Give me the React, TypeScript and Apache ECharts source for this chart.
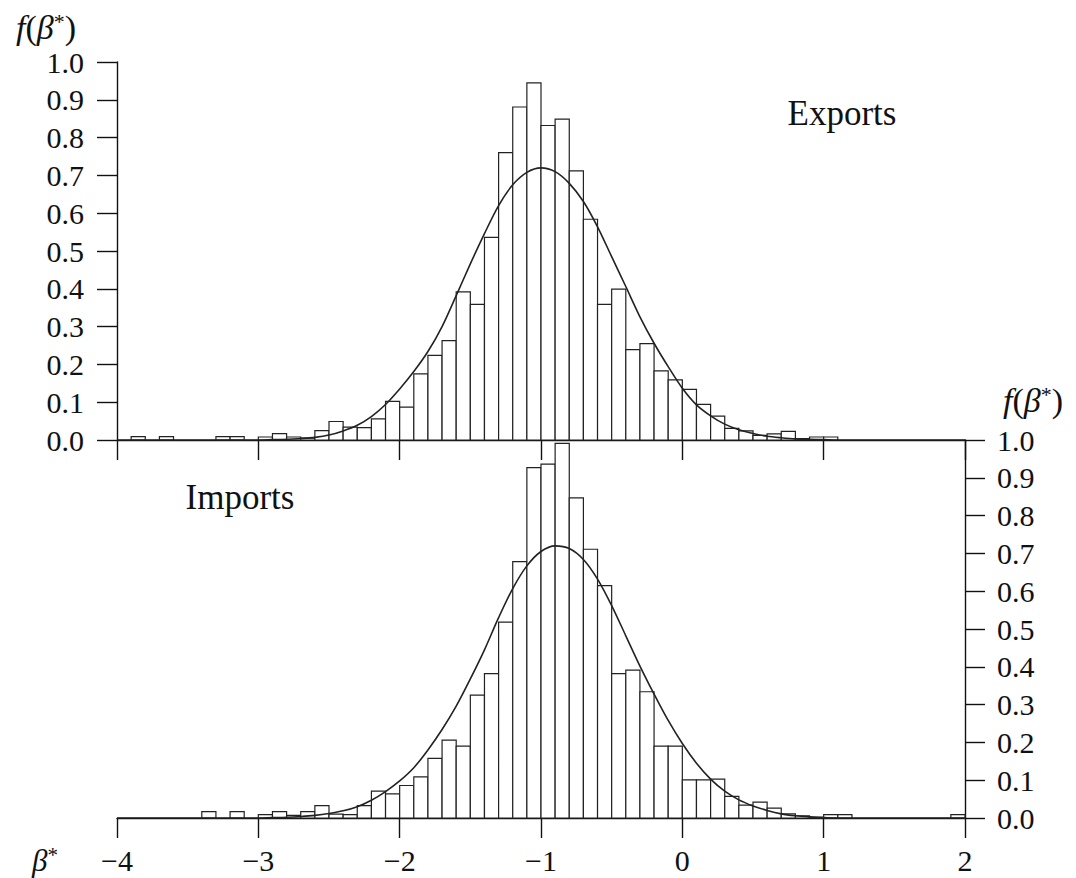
import React, { useEffect, useRef } from "react";
import * as echarts from "echarts";

// Histogram bins: width 0.1, first bin starts at -4.0 (60 bins up to 2.0)
const BIN_START = -4;
const BIN_WIDTH = 0.1;

const exportHeights = [
  0, 0.009, 0, 0.009, 0, 0, 0, 0.009, 0.009, 0,
  0.008, 0.017, 0.008, 0.005, 0.025, 0.049, 0.034, 0.033, 0.056, 0.102,
  0.087, 0.175, 0.224, 0.263, 0.392, 0.359, 0.536, 0.760, 0.881, 0.945,
  0.832, 0.849, 0.712, 0.584, 0.359, 0.399, 0.239, 0.255, 0.183, 0.159,
  0.134, 0.094, 0.063, 0.031, 0.024, 0.012, 0.016, 0.023, 0.004, 0.008,
  0.008, 0, 0, 0, 0, 0, 0, 0, 0, 0,
];

const importHeights = [
  0, 0, 0, 0, 0, 0, 0.017, 0, 0.017, 0,
  0.009, 0.017, 0.007, 0.017, 0.033, 0.010, 0.009, 0.033, 0.071, 0.064,
  0.086, 0.109, 0.158, 0.206, 0.190, 0.325, 0.382, 0.518, 0.678, 0.927,
  0.936, 0.991, 0.847, 0.711, 0.615, 0.382, 0.391, 0.334, 0.190, 0.190,
  0.101, 0.101, 0.103, 0.057, 0.034, 0.042, 0.026, 0.011, 0.006, 0.002,
  0.009, 0.009, 0, 0, 0, 0, 0, 0, 0, 0.009,
];

const curveX = [
  -4.0, -3.0, -2.9, -2.8, -2.7, -2.6, -2.5, -2.4, -2.3, -2.2, -2.1, -2.0,
  -1.9, -1.8, -1.7, -1.6, -1.5, -1.4, -1.3, -1.2, -1.1, -1.0, -0.9, -0.8,
  -0.7, -0.6, -0.5, -0.4, -0.3, -0.2, -0.1, 0.0, 0.1, 0.2, 0.3, 0.4, 0.5,
  0.6, 0.7, 0.8, 0.9, 1.0, 1.1, 1.2, 2.0,
];

const exportCurveY = [
  0, 0, 0.001, 0.002, 0.004, 0.007, 0.013, 0.024, 0.039, 0.062, 0.094, 0.135,
  0.181, 0.234, 0.300, 0.382, 0.466, 0.546, 0.620, 0.675, 0.708, 0.720, 0.710, 0.679,
  0.631, 0.564, 0.485, 0.406, 0.326, 0.256, 0.194, 0.137, 0.093, 0.064, 0.042, 0.027, 0.017,
  0.010, 0.006, 0.003, 0.002, 0.001, 0, 0, 0,
];

const importCurveY = [
  0, 0, 0.001, 0.002, 0.004, 0.007, 0.012, 0.019, 0.030, 0.047, 0.070, 0.098,
  0.133, 0.180, 0.234, 0.296, 0.368, 0.445, 0.530, 0.607, 0.667, 0.705, 0.720, 0.713,
  0.684, 0.632, 0.562, 0.482, 0.402, 0.328, 0.258, 0.197, 0.145, 0.103, 0.071, 0.048, 0.032,
  0.020, 0.011, 0.006, 0.003, 0.001, 0, 0, 0,
];

const FONT = "Liberation Serif";
const INK = "#111";

function binData(heights: number[]) {
  const out: number[][] = [];
  heights.forEach((h, i) => {
    if (h > 0) {
      const x0 = +(BIN_START + i * BIN_WIDTH).toFixed(2);
      const x1 = +(BIN_START + (i + 1) * BIN_WIDTH).toFixed(2);
      out.push([x0, x1, h]);
    }
  });
  return out;
}

function curveData(ys: number[]) {
  return curveX.map((x, i) => [x, ys[i]]);
}

const renderBin = (params: any, api: any) => {
  const x0 = api.value(0);
  const x1 = api.value(1);
  const h = api.value(2);
  const p0 = api.coord([x0, h]);
  const p1 = api.coord([x1, 0]);
  return {
    type: "rect",
    shape: { x: p0[0], y: p0[1], width: p1[0] - p0[0], height: p1[1] - p0[1] },
    style: { fill: "#fff", stroke: "#222", lineWidth: 1.2 },
  };
};

const fmtX = (v: number) => (v < 0 ? "\u2212" + Math.abs(v) : String(v));

const richLabel = {
  i: { fontFamily: FONT, fontSize: 34, fontStyle: "italic", fill: INK },
  n: { fontFamily: FONT, fontSize: 34, fill: INK },
  s: { fontFamily: FONT, fontSize: 22, fill: INK, verticalAlign: "top" },
};

const richSmall = {
  i: { fontFamily: FONT, fontSize: 31, fontStyle: "italic", fill: INK },
  s: { fontFamily: FONT, fontSize: 21, fill: INK, verticalAlign: "top" },
};

export default function App() {
  const ref = useRef<HTMLDivElement>(null);
  useEffect(() => {
    if (!ref.current) return;
    const chart = echarts.init(ref.current, null, { renderer: "svg" });
    const axisLine = { show: true, onZero: false, lineStyle: { color: INK, width: 1.4 } };
    const axisTick = { show: true, length: 20, inside: false, lineStyle: { color: INK, width: 1.4 } };
    const labelStyle = { fontFamily: FONT, fontSize: 30, color: INK };
    chart.setOption({
      animation: false,
      backgroundColor: "#fff",
      grid: [
        { left: 117, top: 62, width: 848, height: 378 },
        { left: 117, top: 440, width: 848, height: 378 },
      ],
      xAxis: [
        {
          type: "value", gridIndex: 0, min: -4, max: 2, interval: 1, position: "bottom",
          axisLine, axisTick, axisLabel: { show: false }, splitLine: { show: false },
        },
        {
          type: "value", gridIndex: 1, min: -4, max: 2, interval: 1, position: "bottom",
          axisLine, axisTick,
          axisLabel: { ...labelStyle, margin: 27, formatter: fmtX, showMinLabel: true, showMaxLabel: true },
          splitLine: { show: false },
        },
      ],
      yAxis: [
        {
          type: "value", gridIndex: 0, min: 0, max: 1, interval: 0.1, position: "left",
          axisLine, axisTick,
          axisLabel: { ...labelStyle, margin: 33, formatter: (v: number) => v.toFixed(1) },
          splitLine: { show: false },
        },
        {
          type: "value", gridIndex: 1, min: 0, max: 1, interval: 0.1, position: "right",
          axisLine, axisTick,
          axisLabel: { ...labelStyle, margin: 32, formatter: (v: number) => v.toFixed(1) },
          splitLine: { show: false },
        },
      ],
      series: [
        {
          type: "custom", name: "Exports histogram", xAxisIndex: 0, yAxisIndex: 0,
          renderItem: renderBin, encode: { x: [0, 1], y: 2 }, data: binData(exportHeights), z: 2,
        },
        {
          type: "line", name: "Exports density", xAxisIndex: 0, yAxisIndex: 0,
          data: curveData(exportCurveY), showSymbol: false, smooth: 0.3,
          lineStyle: { color: "#222", width: 1.6 }, z: 3,
        },
        {
          type: "custom", name: "Imports histogram", xAxisIndex: 1, yAxisIndex: 1,
          renderItem: renderBin, encode: { x: [0, 1], y: 2 }, data: binData(importHeights), z: 2,
        },
        {
          type: "line", name: "Imports density", xAxisIndex: 1, yAxisIndex: 1,
          data: curveData(importCurveY), showSymbol: false, smooth: 0.3,
          lineStyle: { color: "#222", width: 1.6 }, z: 3,
        },
      ],
      graphic: [
        {
          type: "text", x: 46, y: 27,
          style: { text: "{i|f}{n|(}{i|\u03b2}{s|*}{n|)}", rich: richLabel, align: "center", verticalAlign: "middle" },
        },
        {
          type: "text", x: 1033, y: 400,
          style: { text: "{i|f}{n|(}{i|\u03b2}{s|*}{n|)}", rich: richLabel, align: "center", verticalAlign: "middle" },
        },
        {
          type: "text", x: 45, y: 860,
          style: { text: "{i|\u03b2}{s|*}", rich: richSmall, align: "center", verticalAlign: "middle" },
        },
        {
          type: "text", x: 842, y: 113,
          style: { text: "Exports", fontFamily: FONT, fontSize: 35, fill: INK, align: "center", verticalAlign: "middle" },
        },
        {
          type: "text", x: 240, y: 497,
          style: { text: "Imports", fontFamily: FONT, fontSize: 35, fill: INK, align: "center", verticalAlign: "middle" },
        },
      ],
    });
    return () => chart.dispose();
  }, []);
  return (
    <div
      ref={ref}
      style={{ position: "absolute", left: 0, top: 0, width: 1076, height: 878 }}
    />
  );
}
